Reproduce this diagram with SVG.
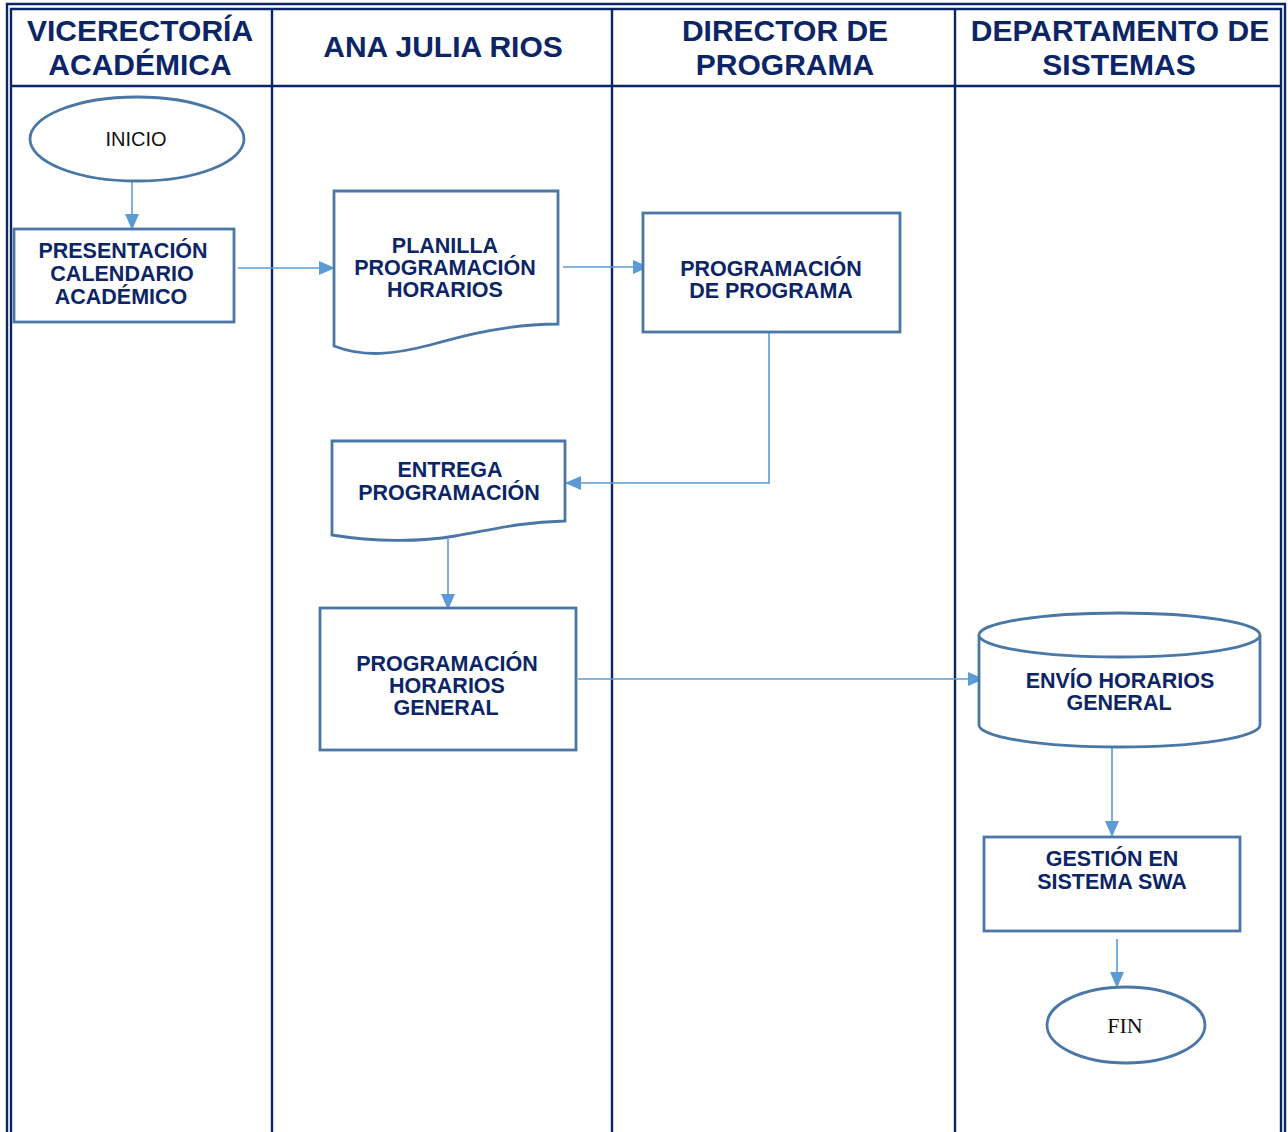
<svg xmlns="http://www.w3.org/2000/svg" width="1288" height="1132" viewBox="0 0 1288 1132">
  <style>
    .frame { stroke: #0b2566; stroke-width: 2.4; fill: none; }
    .head { font-family: "Liberation Sans", Arial, sans-serif; font-weight: bold; font-size: 30px; fill: #0b2566; text-anchor: middle; }
    .shape { fill: #ffffff; stroke: #4a77a6; stroke-width: 2.8; }
    .lbl { font-family: "Liberation Sans", Arial, sans-serif; font-weight: bold; font-size: 21.5px; fill: #0b2566; text-anchor: middle; }
    .term { font-family: "Liberation Sans", Arial, sans-serif; font-size: 20px; fill: #111111; text-anchor: middle; }
    .termserif { font-family: "Liberation Serif", "Times New Roman", serif; font-size: 22px; fill: #111111; text-anchor: middle; }
    .flow { stroke: #5b9bd5; stroke-width: 1.6; fill: none; marker-end: url(#arrow); }
  </style>
  <defs>
    <marker id="arrow" markerWidth="16" markerHeight="14" refX="15" refY="7" orient="auto" markerUnits="userSpaceOnUse">
      <path d="M0,0 L16,7 L0,14 Z" fill="#5b9bd5"/>
    </marker>
  </defs>

  <rect width="1288" height="1132" fill="#ffffff"/>

  <!-- swimlane frame: double outer border, header rule, lane dividers -->
  <g id="lanes">
    <path class="frame" d="M7,1132 V4 H1285 V1132"/>
    <path class="frame" d="M11,1132 V9 H1281 V1132"/>
    <line class="frame" x1="11" y1="86" x2="1281" y2="86"/>
    <line class="frame" x1="272" y1="9" x2="272" y2="1132"/>
    <line class="frame" x1="612" y1="9" x2="612" y2="1132"/>
    <line class="frame" x1="955" y1="9" x2="955" y2="1132"/>
    <text class="head" x="140" y="41">VICERECTORÍA</text>
    <text class="head" x="140" y="75">ACADÉMICA</text>
    <text class="head" x="443" y="57">ANA JULIA RIOS</text>
    <text class="head" x="785" y="41">DIRECTOR DE</text>
    <text class="head" x="785" y="75">PROGRAMA</text>
    <text class="head" x="1120" y="41">DEPARTAMENTO DE</text>
    <text class="head" x="1119" y="75">SISTEMAS</text>
  </g>

  <!-- connectors -->
  <g id="connectors">
    <line class="flow" x1="132" y1="181" x2="132" y2="229"/>
    <line class="flow" x1="238" y1="268" x2="334" y2="268"/>
    <line class="flow" x1="563" y1="267" x2="648" y2="267"/>
    <polyline class="flow" points="769,333 769,483 566,483"/>
    <line class="flow" x1="448" y1="539" x2="448" y2="609"/>
    <line class="flow" x1="578" y1="679" x2="983" y2="679"/>
    <line class="flow" x1="1112" y1="748" x2="1112" y2="836"/>
    <line class="flow" x1="1117" y1="939" x2="1117" y2="987"/>
  </g>

  <g id="inicio">
    <ellipse class="shape" cx="137" cy="139" rx="107" ry="42"/>
    <text class="term" x="136" y="146">INICIO</text>
  </g>

  <g id="presentacion">
    <rect class="shape" x="14" y="229" width="220" height="93"/>
    <text class="lbl" x="123" y="258">PRESENTACIÓN</text>
    <text class="lbl" x="122" y="281">CALENDARIO</text>
    <text class="lbl" x="121" y="304">ACADÉMICO</text>
  </g>

  <g id="planilla">
    <path class="shape" d="M334,191 H558 V324 C510,324 470,334 430,345 C395,354 365,358 334,346 Z"/>
    <text class="lbl" x="445" y="253">PLANILLA</text>
    <text class="lbl" x="445" y="275">PROGRAMACIÓN</text>
    <text class="lbl" x="445" y="297">HORARIOS</text>
  </g>

  <g id="programacion-programa">
    <rect class="shape" x="643" y="213" width="257" height="119"/>
    <text class="lbl" x="771" y="276">PROGRAMACIÓN</text>
    <text class="lbl" x="771" y="298">DE PROGRAMA</text>
  </g>

  <g id="entrega">
    <path class="shape" d="M332,441 H565 V521 C520,522 490,530 455,536 C420,542 375,542 332,535 Z"/>
    <text class="lbl" x="450" y="477">ENTREGA</text>
    <text class="lbl" x="449" y="500">PROGRAMACIÓN</text>
  </g>

  <g id="horarios-general">
    <rect class="shape" x="320" y="608" width="256" height="142"/>
    <text class="lbl" x="447" y="671">PROGRAMACIÓN</text>
    <text class="lbl" x="447" y="693">HORARIOS</text>
    <text class="lbl" x="446" y="715">GENERAL</text>
  </g>

  <g id="envio">
    <path class="shape" d="M979,635 V725 A140.5,22 0 0 0 1260,725 V635"/>
    <ellipse class="shape" cx="1119.5" cy="635" rx="140.5" ry="22"/>
    <text class="lbl" x="1120" y="688">ENVÍO HORARIOS</text>
    <text class="lbl" x="1119" y="710">GENERAL</text>
  </g>

  <g id="gestion">
    <rect class="shape" x="984" y="837" width="256" height="94"/>
    <text class="lbl" x="1112" y="866">GESTIÓN EN</text>
    <text class="lbl" x="1112" y="889">SISTEMA SWA</text>
  </g>

  <g id="fin">
    <ellipse class="shape" cx="1126" cy="1025" rx="79" ry="38"/>
    <text class="termserif" x="1125" y="1033">FIN</text>
  </g>
</svg>
